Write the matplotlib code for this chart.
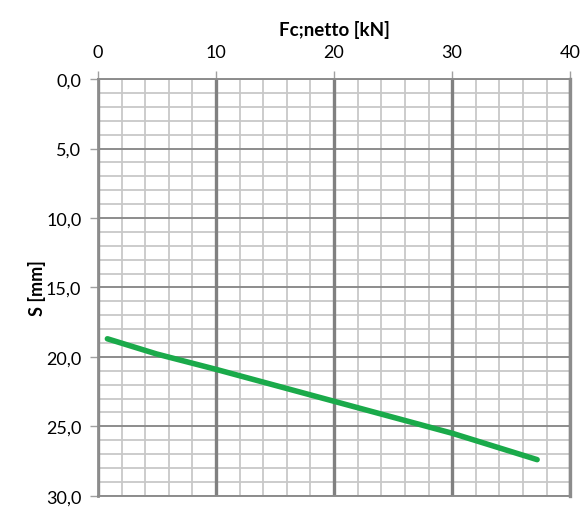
import matplotlib
matplotlib.use("Agg")
import matplotlib.pyplot as plt
import numpy as np

# Data
force_kN = [0.8, 5.0, 10.0, 20.0, 30.0, 37.2]
settlement_mm = [18.7, 19.8, 20.9, 23.2, 25.5, 27.4]

x_major = [0, 10, 20, 30, 40]
y_major = [0, 5, 10, 15, 20, 25, 30]
y_labels = ["0,0", "5,0", "10,0", "15,0", "20,0", "25,0", "30,0"]

plt.rcParams['font.family'] = ['Lato', 'DejaVu Sans']

fig = plt.figure(figsize=(5.83, 5.10), dpi=100)
ax = fig.add_axes([0.168, 0.026, 0.81, 0.817])

ax.set_xlim(0, 40)
ax.set_ylim(30, 0)

# minor grid
for xv in np.arange(0, 41, 2):
    if xv % 10 != 0:
        ax.axvline(xv, color='#c8c8c8', lw=1.3, zorder=1)
for yv in np.arange(0, 31, 1):
    if yv % 5 != 0:
        ax.axhline(yv, color='#c8c8c8', lw=1.3, zorder=1)
# major grid
for yv in y_major:
    ax.axhline(yv, color='#8c8c8c', lw=1.4, zorder=2)
for xv in x_major:
    ax.axvline(xv, color='#808080', lw=2.4, zorder=2)

ax.plot(force_kN, settlement_mm, color='#1aaa4a', lw=4, solid_capstyle='round', zorder=5)

ax.xaxis.tick_top()
ax.xaxis.set_label_position('top')
ax.set_xticks(x_major)
ax.set_yticks(y_major)
ax.set_yticklabels(y_labels)
ax.tick_params(axis='both', length=6, width=1, color='#a0a0a0', labelsize=13)
ax.tick_params(axis='x', pad=8)
ax.tick_params(axis='y', pad=6)
for t in ax.get_xticklabels() + ax.get_yticklabels():
    t.set_color('black')

ax.set_xlabel('Fc;netto [kN]', fontsize=13.5, fontweight='bold', labelpad=6)
ax.set_ylabel('S [mm]', fontsize=13, fontweight='bold', labelpad=0)

for s in ['left', 'bottom', 'right', 'top']:
    ax.spines[s].set_color('#8c8c8c')
    ax.spines[s].set_linewidth(1.4)
ax.spines['right'].set_linewidth(2.4)
ax.spines['left'].set_linewidth(2.0)

fig.savefig('out.png', dpi=100)
